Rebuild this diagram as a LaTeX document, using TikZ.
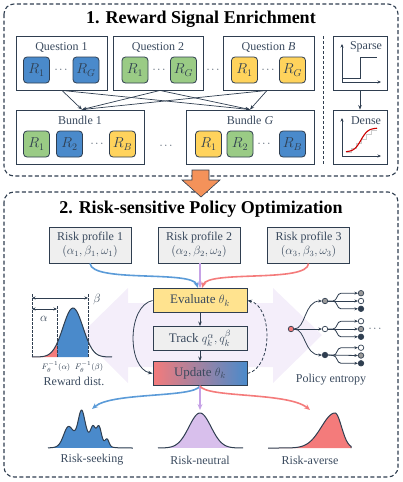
\documentclass[tikz,border=0pt]{standalone}
\usepackage{fontspec}
\setmainfont{Liberation Serif}
\usetikzlibrary{arrows.meta,calc}
\definecolor{dk}{HTML}{2F3E50}
\definecolor{tx}{HTML}{3A4A5E}
\definecolor{cb}{HTML}{4A8ACB}
\definecolor{cg}{HTML}{9ACB85}
\definecolor{cy}{HTML}{FFD35C}
\definecolor{cev}{HTML}{FFE38F}
\definecolor{cgr}{HTML}{EFEFEF}
\definecolor{cr}{HTML}{F47B7B}
\definecolor{cp}{HTML}{C6A2E6}
\definecolor{cpf}{HTML}{D8BFEC}
\definecolor{lav}{HTML}{F4EEFA}
\definecolor{cor}{HTML}{F4925A}
\definecolor{cba}{HTML}{5B9BD8}
\definecolor{cgy}{HTML}{9A9A9A}
\tikzset{
  panel/.style={draw=dk, line width=1.1pt, dash pattern=on 4pt off 2.5pt, rounded corners=10pt},
  frame/.style={draw=dk, line width=0.9pt, fill=white, inner sep=0pt},
  rb/.style={draw=dk, line width=0.8pt, rounded corners=3.5pt, minimum width=26pt, minimum height=26pt, inner sep=0pt, text=dk, font=\fontsize{14}{14}\selectfont},
  lbl/.style={text=tx, font=\fontsize{12}{12}\selectfont, inner sep=0pt},
  big/.style={text=black, font=\fontsize{18}{18}\selectfont\bfseries, inner sep=0pt},
  dts/.style={text=dk, font=\fontsize{11}{11}\selectfont, inner sep=0pt},
  thinarr/.style={draw=dk, line width=0.7pt, -{Stealth[length=4.5pt,width=3.5pt]}},
  darr/.style={draw=dk, line width=0.8pt, -{Stealth[length=4.5pt,width=3.5pt]}},
  fatarr/.style={line width=1.6pt, -{Stealth[length=6pt,width=5pt]}},
  rp/.style={draw=dk, line width=0.9pt, fill=cgr, minimum width=82pt, minimum height=36pt, align=center, text=tx, font=\fontsize{12}{14}\selectfont, inner sep=0pt},
  cb3/.style={draw=dk, line width=0.9pt, minimum width=94pt, minimum height=24pt, text=tx, font=\fontsize{13}{13}\selectfont, inner sep=0pt},
  dot/.style={circle, draw=dk, line width=0.7pt, minimum size=5.5pt, inner sep=0pt},
  tarr/.style={draw=dk, line width=0.8pt, -{Stealth[length=3.5pt,width=3pt]}},
  curve/.style={draw=dk, line width=1pt}
}
\begin{document}
\begin{tikzpicture}[x=1pt,y=-1pt]
\useasboundingbox (0,0) rectangle (402,482);
% ---------------- panel 1
\draw[panel] (4,4) rectangle (398,176);
\node[big] (t1) at (201,19) {1. Reward Signal Enrichment};
% questions
\node[frame, minimum width=91pt, minimum height=54pt] (q1) at (61.5,63) {};
\node[frame, minimum width=90pt, minimum height=54pt] (q2) at (158,63) {};
\node[frame, minimum width=91pt, minimum height=54pt] (qB) at (268.5,63) {};
\node[lbl] (q1t) at (61.5,47) {Question 1};
\node[lbl] (q2t) at (158,47) {Question 2};
\node[lbl] (qBt) at (268.5,47) {Question \textit{B}};
\node[rb, fill=cb] (q1a) at (36.5,70) {$R_1$};
\node[dts] (q1d) at (61,70) {$\cdots$};
\node[rb, fill=cb] (q1b) at (86,70) {$R_G$};
\node[rb, fill=cg] (q2a) at (135,70) {$R_1$};
\node[dts] (q2d) at (159,70) {$\cdots$};
\node[rb, fill=cg] (q2b) at (183.5,70) {$R_G$};
\node[dts] (qqd) at (213,70) {$\cdots$};
\node[rb, fill=cy] (qBa) at (244.5,70) {$R_1$};
\node[dts] (qBd) at (268,70) {$\cdots$};
\node[rb, fill=cy] (qBb) at (292.5,70) {$R_G$};
% bundles
\node[frame, minimum width=128pt, minimum height=54pt] (b1) at (80,137) {};
\node[frame, minimum width=128pt, minimum height=54pt] (bG) at (250,137) {};
\node[lbl] (b1t) at (80,120) {Bundle 1};
\node[lbl] (bGt) at (250,120) {Bundle \textit{G}};
\node[rb, fill=cg] (b1a) at (36.5,144) {$R_1$};
\node[rb, fill=cb] (b1b) at (69.5,144) {$R_2$};
\node[dts] (b1d) at (97,144) {$\cdots$};
\node[rb, fill=cy] (b1c) at (122.5,144) {$R_B$};
\node[dts] (bbd) at (166,146) {$\cdots$};
\node[rb, fill=cy] (bGa) at (208.5,144) {$R_1$};
\node[rb, fill=cg] (bGb) at (240,144) {$R_2$};
\node[dts] (bGd) at (264,144) {$\cdots$};
\node[rb, fill=cb] (bGc) at (292.5,144) {$R_B$};
% cross arrows
\coordinate (s1) at ($(q1.south)+(0.5,0)$);
\coordinate (s2) at ($(q2.south)+(2,0)$);
\coordinate (s3) at ($(qB.south)+(-1.5,0)$);
\coordinate (e1) at ($(b1.north)+(2,0)$);
\coordinate (e2) at (bG.north);
\foreach \s in {s1,s2,s3}{\foreach \e in {e1,e2}{\draw[thinarr] (\s) -- (\e);}}
% separator
\draw[draw=dk, line width=0.7pt, dash pattern=on 3pt off 2pt] (323,36) -- (323,164);
% sparse / dense
\node[frame, minimum width=54pt, minimum height=54pt] (sp) at (360,63) {};
\node[frame, minimum width=54pt, minimum height=54pt] (de) at (360,137) {};
\node[lbl] (spt) at (366,47) {Sparse};
\node[lbl] (det) at (366,121) {Dense};
\draw[darr] (sp.south) -- (de.north);
\draw[dk, line width=0.8pt, -{Stealth[length=3.5pt,width=3pt]}] (342,82) -- (342,44);
\draw[dk, line width=0.8pt, -{Stealth[length=3.5pt,width=3pt]}] (342,82) -- (381,82);
\draw[dk, line width=0.9pt] (342,78) -- (360,78) -- (360,57) -- (377,57);
\draw[dk, line width=0.8pt, -{Stealth[length=3.5pt,width=3pt]}] (342,156) -- (342,118);
\draw[dk, line width=0.8pt, -{Stealth[length=3.5pt,width=3pt]}] (342,156) -- (381,156);
\draw[black!20, line width=0.6pt] (346,152) -- (351,152) -- (351,148) -- (356,148) -- (356,143) -- (361,143) -- (361,139) -- (366,139) -- (366,134) -- (371,134) -- (371,130) -- (377,130);
\draw[red!80!black, line width=1.1pt] plot[domain=346:377, samples=40] (\x,{152-24/(1+exp(-(\x-361)/3.5))});
% ---------------- panel 2
\draw[panel] (4,192) rectangle (398,477);
% orange arrow
\draw[draw=dk, line width=0.6pt, fill=cor] (192,170) -- (209,170) -- (209,180) -- (220,180) -- (201,197) -- (182,180) -- (192,180) -- cycle;
\node[big] (t2) at (201,209) {2. Risk-sensitive Policy Optimization};
% lavender double arrow
\fill[lav] (80,335) -- (128,288) -- (128,303) -- (273,303) -- (273,288) -- (322,335) -- (273,383) -- (273,367) -- (128,367) -- (128,383) -- cycle;
% risk profiles
\node[rp] (rp1) at (90,245) {Risk profile 1\\$(\alpha_1,\beta_1,\omega_1)$};
\node[rp] (rp2) at (199,245) {Risk profile 2\\$(\alpha_2,\beta_2,\omega_2)$};
\node[rp] (rp3) at (308.5,245) {Risk profile 3\\$(\alpha_3,\beta_3,\omega_3)$};
% central boxes
\node[cb3, fill=cev] (ev) at (200,300.5) {Evaluate $\theta_k$};
\node[cb3, fill=cgr] (tr) at (200,338.5) {Track $q_k^{\alpha}, q_k^{\beta}$};
\node[cb3, left color=cr, right color=cb] (up) at (200,373.5) {Update $\theta_k$};
\draw[darr] (ev.south) -- (tr.north);
\draw[darr] (tr.south) -- (up.north);
\draw[darr] (ev.west) .. controls (127,306) and (127,368) .. (up.west);
\draw[darr, dash pattern=on 3pt off 2pt] (up.east) .. controls (273,368) and (273,306) .. (ev.east);
% incoming
\draw[fatarr, cba] (rp1.south) .. controls (92,283) and (192,270) .. ($(ev.north)+(-2,0)$);
\draw[fatarr, cp] (ev.north |- rp2.south) -- (ev.north);
\draw[fatarr, cr] (rp3.south) .. controls (308,283) and (208,270) .. ($(ev.north)+(2,0)$);
% outgoing
\coordinate (o1) at (92,409);
\coordinate (o2) at (200,410);
\coordinate (o3) at (310,410);
\draw[fatarr, cba] (up.south) .. controls (194,398) and (112,392) .. (o1);
\draw[fatarr, cp] (up.south) -- (o2);
\draw[fatarr, cr] (up.south) .. controls (206,398) and (288,392) .. (o3);
% reward dist
\fill[cr] plot[domain=32:57, samples=30] (\x,{357-49*exp(-((\x-73)/10)^2/2)}) -- (57,357) -- (32,357) -- cycle;
\fill[cb] plot[domain=57:88, samples=30] (\x,{357-49*exp(-((\x-73)/10)^2/2)}) -- (88,357) -- (57,357) -- cycle;
\draw[curve] plot[domain=32:112, samples=60] (\x,{357-49*exp(-((\x-73)/10)^2/2)});
\draw[dk, line width=0.7pt, dash pattern=on 2.5pt off 1.5pt] (32,294) -- (32,357) (57,306) -- (57,357) (88,294) -- (88,357);
\draw[dk, line width=0.8pt, {Stealth[length=3.5pt,width=3pt]}-{Stealth[length=3.5pt,width=3pt]}] (32,298) -- (88,298);
\draw[dk, line width=0.8pt, {Stealth[length=3.5pt,width=3pt]}-{Stealth[length=3.5pt,width=3pt]}] (32,309) -- (57,309);
\node[text=dk, font=\fontsize{13}{13}\selectfont, inner sep=0pt] (lb) at (97,299) {$\beta$};
\node[text=dk, font=\fontsize{13}{13}\selectfont, inner sep=0pt] (la) at (44,319) {$\alpha$};
\node[text=dk, font=\fontsize{8}{8}\selectfont, inner sep=0pt] (fa) at (56,367) {$F_\theta^{-1}(\alpha)$};
\node[text=dk, font=\fontsize{8}{8}\selectfont, inner sep=0pt] (fb) at (89,367) {$F_\theta^{-1}(\beta)$};
\node[lbl] (rd) at (74,381) {Reward dist.};
% policy tree
\node[dot, fill=cr] (root) at (291,329) {};
\node[dot, fill=cgy] (n1) at (325,301) {};
\node[dot, fill=white] (n2) at (325,329) {};
\node[dot, fill=dk] (n3) at (325,355) {};
\draw[tarr] (root.east) .. controls (306,329) and (304,301) .. (n1.west);
\draw[tarr] (root.east) -- (n2.west);
\draw[tarr] (root.east) .. controls (306,329) and (304,355) .. (n3.west);
\foreach \n/\y/\ca/\cbb/\cc in {n1/301/cgy/white/dk, n2/329/white/cgy/dk, n3/355.5/white/cgy/dk}{
  \node[dot, fill=\ca] (\n a) at (361,\y-7.8) {};
  \node[dot, fill=\cbb] (\n b) at (361,\y) {};
  \node[dot, fill=\cc] (\n c) at (361,\y+7.8) {};
  \draw[tarr] (\n.east) -- (333,\y) to[out=0,in=180] (341,\y-7.8) -- (\n a.west);
  \draw[tarr] (\n.east) -- (\n b.west);
  \draw[tarr] (333,\y) to[out=0,in=180] (341,\y+7.8) -- (\n c.west);
}
\node[dts] (pd) at (375,329) {$\cdots$};
\node[lbl] (pe) at (331,380) {Policy entropy};
% risk distributions
\fill[cb] plot[domain=48:133, samples=160] (\x,{448-(13*exp(-((\x-84)/12)^2/2)+16*exp(-((\x-68)/4.5)^2/2)+25*exp(-((\x-81.5)/3.2)^2/2)+12*exp(-((\x-93)/2.2)^2/2)+16*exp(-((\x-99)/2.4)^2/2)+7*exp(-((\x-107)/2)^2/2))}) -- cycle;
\draw[curve] plot[domain=48:133, samples=160] (\x,{448-(13*exp(-((\x-84)/12)^2/2)+16*exp(-((\x-68)/4.5)^2/2)+25*exp(-((\x-81.5)/3.2)^2/2)+12*exp(-((\x-93)/2.2)^2/2)+16*exp(-((\x-99)/2.4)^2/2)+7*exp(-((\x-107)/2)^2/2))});
\fill[cpf] plot[domain=158:243, samples=80] (\x,{448-35*exp(-((\x-200)/11)^2/2)}) -- cycle;
\draw[curve] plot[domain=158:243, samples=80] (\x,{448-35*exp(-((\x-200)/11)^2/2)});
\fill[cr] plot[domain=268:351, samples=100] (\x,{448-35*exp(-((\x-335)/(\x<335?13.5:6.5))^2/2)}) -- (351,448) -- cycle;
\draw[curve] plot[domain=268:351, samples=100] (\x,{448-35*exp(-((\x-335)/(\x<335?13.5:6.5))^2/2)}) -- (351,448);
\node[lbl] (l1) at (92,460) {Risk-seeking};
\node[lbl] (l2) at (200,460) {Risk-neutral};
\node[lbl] (l3) at (310,460) {Risk-averse};
\end{tikzpicture}
\end{document}
